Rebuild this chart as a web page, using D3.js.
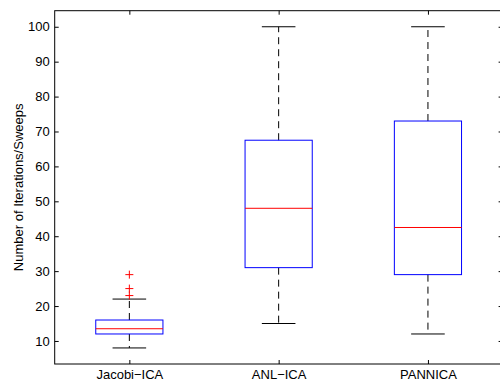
<!DOCTYPE html>
<html>
<head>
<meta charset="utf-8">
<script src="https://cdn.jsdelivr.net/npm/d3@7"></script>
<style>
  body { margin: 0; background: #fff; }
  svg { display: block; font-family: "Liberation Sans", Arial, sans-serif; }
</style>
</head>
<body>
<div id="chart"></div>
<script>
// Data
var categories = ["Jacobi-ICA", "ANL-ICA", "PANNICA"];
var whiskerLow  = [8, 15, 12];
var boxLow      = [12, 31, 29];
var medians     = [13.5, 48, 42.5];
var boxHigh     = [16, 67.5, 73];
var whiskerHigh = [22, 100, 100];
var outliers    = [[23, 25, 29], [], []];
var yTicks = [10, 20, 30, 40, 50, 60, 70, 80, 90, 100];

var width = 500, height = 383;
var margin = {top: 10.7, right: -2.6, bottom: 19, left: 54.7};

var svg = d3.select("#chart").append("svg")
    .attr("width", width)
    .attr("height", height);

//x goes from 0.5 to 3.5 like a matlab boxplot
var x = d3.scaleLinear()
    .domain([0.5, 3.5])
    .range([margin.left, width - margin.right]);
var y = d3.scaleLinear()
    .domain([3.4, 104.6])
    .range([height - margin.bottom, margin.top]);

var boxHalf = 0.225, capHalf = 0.1125;

var data = categories.map(function(c, i) {
  return {i: i + 1, name: c, wl: whiskerLow[i], q1: boxLow[i], med: medians[i],
          q3: boxHigh[i], wh: whiskerHigh[i], out: outliers[i]};
});

var g = svg.append("g");

//Whiskers (dashed) and caps
data.forEach(function(d) {
  var cx = x(d.i);
  g.append("line")
      .attr("x1", cx).attr("x2", cx)
      .attr("y1", y(d.q3)).attr("y2", y(d.wh))
      .attr("stroke", "#000").attr("stroke-width", 1)
      .attr("stroke-dasharray", "7,5");
  g.append("line")
      .attr("x1", cx).attr("x2", cx)
      .attr("y1", y(d.q1)).attr("y2", y(d.wl))
      .attr("stroke", "#000").attr("stroke-width", 1)
      .attr("stroke-dasharray", "7,5");
  [d.wl, d.wh].forEach(function(v) {
    g.append("line")
        .attr("x1", x(d.i - capHalf)).attr("x2", x(d.i + capHalf))
        .attr("y1", y(v)).attr("y2", y(v))
        .attr("stroke", "#000").attr("stroke-width", 1);
  });
  //Box
  g.append("rect")
      .attr("x", x(d.i - boxHalf))
      .attr("y", y(d.q3))
      .attr("width", x(d.i + boxHalf) - x(d.i - boxHalf))
      .attr("height", y(d.q1) - y(d.q3))
      .attr("fill", "none")
      .attr("stroke", "#0000ff").attr("stroke-width", 1);
  //Median
  g.append("line")
      .attr("x1", x(d.i - boxHalf)).attr("x2", x(d.i + boxHalf))
      .attr("y1", y(d.med)).attr("y2", y(d.med))
      .attr("stroke", "#ff0000").attr("stroke-width", 1);
  //Outliers as red plus signs
  d.out.forEach(function(v) {
    var px = x(d.i), py = y(v), s = 4;
    g.append("path")
        .attr("d", "M" + (px - s) + "," + py + "H" + (px + s) + "M" + px + "," + (py - s) + "V" + (py + s))
        .attr("stroke", "#ff0000").attr("stroke-width", 1).attr("fill", "none");
  });
});

//Axes frame with inward ticks on all four sides
var x0 = x.range()[0], x1 = x.range()[1], y0 = y.range()[0], y1 = y.range()[1];
var tickLen = 4;

var yAxisL = d3.axisLeft(y).tickValues(yTicks).tickSizeInner(-tickLen).tickSizeOuter(0).tickPadding(5);
var yAxisR = d3.axisRight(y).tickValues(yTicks).tickSizeInner(-tickLen).tickSizeOuter(0).tickFormat("");
var xAxisB = d3.axisBottom(x).tickValues([1, 2, 3]).tickSizeInner(-tickLen).tickSizeOuter(0).tickPadding(6)
    .tickFormat(function(d) { return categories[d - 1].replace("-", "\u2212"); });
var xAxisT = d3.axisTop(x).tickValues([1, 2, 3]).tickSizeInner(-tickLen).tickSizeOuter(0).tickFormat("");

function styleAxis(sel) {
  sel.select(".domain").remove();
  sel.selectAll(".tick line").attr("stroke", "#000");
  sel.selectAll("text").attr("fill", "#000").style("font-size", "13px");
}

svg.append("g").attr("transform", "translate(" + x0 + ",0)").call(yAxisL).call(styleAxis);
svg.append("g").attr("transform", "translate(" + x1 + ",0)").call(yAxisR).call(styleAxis);
svg.append("g").attr("transform", "translate(0," + y0 + ")").call(xAxisB).call(styleAxis);
svg.append("g").attr("transform", "translate(0," + y1 + ")").call(xAxisT).call(styleAxis);

svg.append("rect")
    .attr("x", x0).attr("y", y1)
    .attr("width", x1 - x0).attr("height", y0 - y1)
    .attr("fill", "none").attr("stroke", "#000").attr("stroke-width", 1);

//Y label
svg.append("text")
    .attr("transform", "translate(23," + ((y0 + y1) / 2) + ") rotate(-90)")
    .attr("text-anchor", "middle")
    .style("font-size", "13px")
    .text("Number of Iterations/Sweeps");
</script>
</body>
</html>
